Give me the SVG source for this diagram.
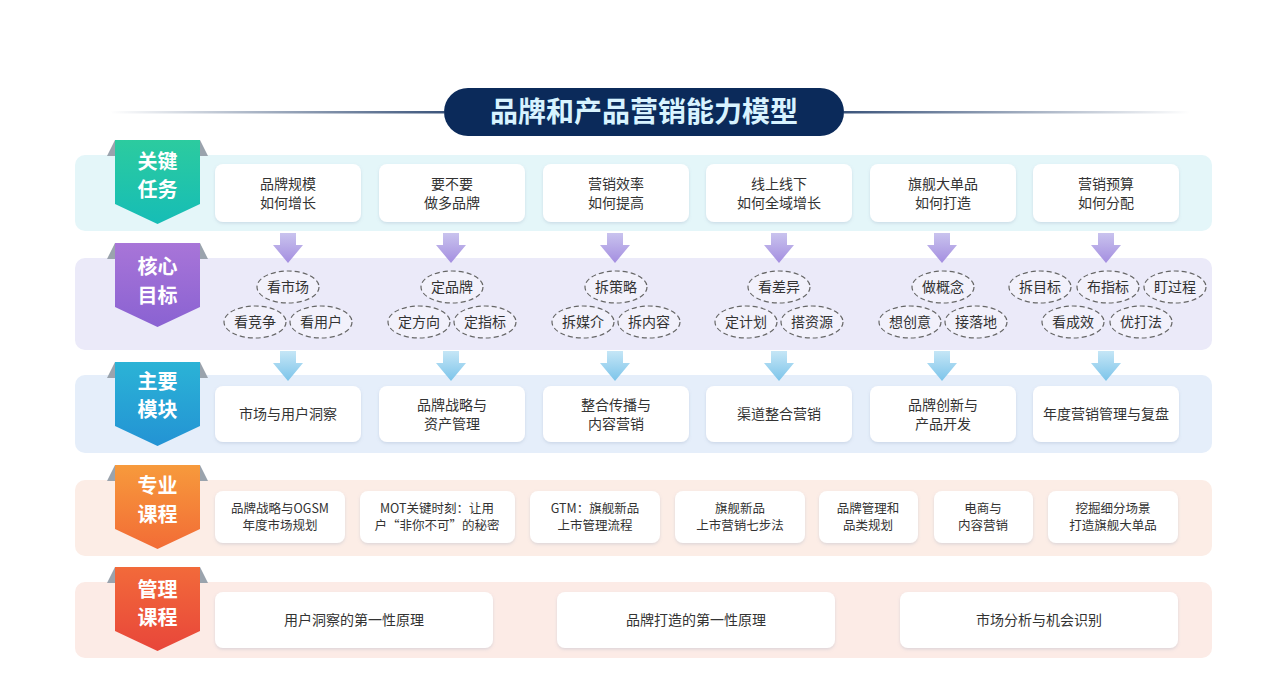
<svg xmlns="http://www.w3.org/2000/svg" width="1280" height="685" viewBox="0 0 1280 685">
<defs>
<style>
text{font-family:"Noto Sans CJK SC","Noto Sans",sans-serif;fill:#333;text-anchor:middle}
.card{fill:#fff;filter:url(#sh)}
.t{font-size:14px}
.s{font-size:12.5px}
.badge text{fill:#fff;font-size:20px;font-weight:bold}
.ov{fill:#fff;fill-opacity:.35;stroke:#666;stroke-dasharray:5 3;stroke-width:1.2}
.o{font-size:14px}
</style>
<filter id="sh" x="-10%" y="-20%" width="120%" height="150%"><feDropShadow dx="0" dy="1.5" stdDeviation="1.5" flood-color="#8090b0" flood-opacity=".25"/></filter>
<linearGradient id="ln" x1="0" x2="1"><stop offset="0" stop-color="#0b2a5a" stop-opacity="0"/><stop offset="1" stop-color="#0b2a5a" stop-opacity=".8"/></linearGradient>
<linearGradient id="ln2" x1="1" x2="0"><stop offset="0" stop-color="#0b2a5a" stop-opacity="0"/><stop offset="1" stop-color="#0b2a5a" stop-opacity=".8"/></linearGradient>
<linearGradient id="g1" x1="0" y1="0" x2="0" y2="1"><stop offset="0" stop-color="#2ccb9f"/><stop offset="1" stop-color="#16bdb6"/></linearGradient>
<linearGradient id="g2" x1="0" y1="0" x2="0" y2="1"><stop offset="0" stop-color="#a875d8"/><stop offset="1" stop-color="#8a62d2"/></linearGradient>
<linearGradient id="g3" x1="0" y1="0" x2="0" y2="1"><stop offset="0" stop-color="#2bb3d6"/><stop offset="1" stop-color="#2393d4"/></linearGradient>
<linearGradient id="g4" x1="0" y1="0" x2="0" y2="1"><stop offset="0" stop-color="#f79a3c"/><stop offset="1" stop-color="#f26c36"/></linearGradient>
<linearGradient id="g5" x1="0" y1="0" x2="0" y2="1"><stop offset="0" stop-color="#f26a3a"/><stop offset="1" stop-color="#e8463a"/></linearGradient>
<linearGradient id="ap" x1="0" y1="0" x2="0" y2="1"><stop offset="0" stop-color="#c9c3ee"/><stop offset="1" stop-color="#a48ee0"/></linearGradient>
<linearGradient id="ab" x1="0" y1="0" x2="0" y2="1"><stop offset="0" stop-color="#c5e6f6"/><stop offset="1" stop-color="#7cc4ea"/></linearGradient>
<path id="arr" d="M-8,0 H8 V12 H15 L0,30 L-15,12 H-8 Z"/>
<path id="bd" d="M0,0 H85 V64 L42.5,84 L0,64 Z"/>
<path id="fold" d="M-8,16 L0,0 V16 Z M85,0 L93,16 H85 Z" fill="#9aa3ad"/>
</defs>
<rect width="1280" height="685" fill="#fff"/>

<g id="title">
<rect x="110" y="111" width="334" height="2.5" fill="url(#ln)"/>
<rect x="844" y="111" width="346" height="2.5" fill="url(#ln2)"/>
<rect x="444" y="88" width="400" height="48" rx="24" fill="#0b2a5a"/>
<text x="644" y="122" style="font-size:28px;font-weight:bold;fill:#d8f3ff">品牌和产品营销能力模型</text>
</g>

<g id="rows">
<rect x="75" y="155" width="1137" height="76" rx="10" fill="#e4f6f9"/>
<rect x="75" y="258" width="1137" height="92" rx="10" fill="#ebeaf9"/>
<rect x="75" y="375" width="1137" height="78" rx="10" fill="#e5eefa"/>
<rect x="75" y="480" width="1137" height="76" rx="10" fill="#fcede6"/>
<rect x="75" y="582" width="1137" height="76" rx="10" fill="#fcebe6"/>
</g>

<g id="connectors">
<g fill="url(#ap)">
<use href="#arr" x="288" y="233"/><use href="#arr" x="451" y="233"/><use href="#arr" x="615" y="233"/><use href="#arr" x="779" y="233"/><use href="#arr" x="942" y="233"/><use href="#arr" x="1106" y="233"/>
</g>
<g fill="url(#ab)">
<use href="#arr" x="288" y="351"/><use href="#arr" x="451" y="351"/><use href="#arr" x="615" y="351"/><use href="#arr" x="779" y="351"/><use href="#arr" x="942" y="351"/><use href="#arr" x="1106" y="351"/>
</g>
</g>

<g id="badge1" class="badge" transform="translate(115,140)"><use href="#fold"/><use href="#bd" fill="url(#g1)"/><text x="42.5" y="29">关键</text><text x="42.5" y="57">任务</text></g>
<g id="badge2" class="badge" transform="translate(115,243)"><use href="#fold"/><use href="#bd" fill="url(#g2)"/><text x="42.5" y="31">核心</text><text x="42.5" y="60">目标</text></g>
<g id="badge3" class="badge" transform="translate(115,362)"><use href="#fold"/><use href="#bd" fill="url(#g3)"/><text x="42.5" y="27">主要</text><text x="42.5" y="55">模块</text></g>
<g id="badge4" class="badge" transform="translate(115,465)"><use href="#fold"/><use href="#bd" fill="url(#g4)"/><text x="42.5" y="28">专业</text><text x="42.5" y="57">课程</text></g>
<g id="badge5" class="badge" transform="translate(115,567)"><use href="#fold"/><use href="#bd" fill="url(#g5)"/><text x="42.5" y="30">管理</text><text x="42.5" y="58">课程</text></g>

<g id="r1c1"><rect class="card" x="215" y="164" width="146" height="58" rx="8"/><text class="t" x="288" y="189">品牌规模</text><text class="t" x="288" y="208">如何增长</text></g>
<g id="r1c2"><rect class="card" x="379" y="164" width="146" height="58" rx="8"/><text class="t" x="452" y="189">要不要</text><text class="t" x="452" y="208">做多品牌</text></g>
<g id="r1c3"><rect class="card" x="543" y="164" width="146" height="58" rx="8"/><text class="t" x="616" y="189">营销效率</text><text class="t" x="616" y="208">如何提高</text></g>
<g id="r1c4"><rect class="card" x="706" y="164" width="146" height="58" rx="8"/><text class="t" x="779" y="189">线上线下</text><text class="t" x="779" y="208">如何全域增长</text></g>
<g id="r1c5"><rect class="card" x="870" y="164" width="146" height="58" rx="8"/><text class="t" x="943" y="189">旗舰大单品</text><text class="t" x="943" y="208">如何打造</text></g>
<g id="r1c6"><rect class="card" x="1033" y="164" width="146" height="58" rx="8"/><text class="t" x="1106" y="189">营销预算</text><text class="t" x="1106" y="208">如何分配</text></g>

<g id="r2g1"><ellipse class="ov" cx="288" cy="287" rx="31" ry="16"/><text class="o" x="288" y="292">看市场</text><ellipse class="ov" cx="255" cy="322" rx="31" ry="16"/><text class="o" x="255" y="327">看竞争</text><ellipse class="ov" cx="321" cy="322" rx="31" ry="16"/><text class="o" x="321" y="327">看用户</text></g>
<g id="r2g2"><ellipse class="ov" cx="452" cy="287" rx="31" ry="16"/><text class="o" x="452" y="292">定品牌</text><ellipse class="ov" cx="419" cy="322" rx="31" ry="16"/><text class="o" x="419" y="327">定方向</text><ellipse class="ov" cx="485" cy="322" rx="31" ry="16"/><text class="o" x="485" y="327">定指标</text></g>
<g id="r2g3"><ellipse class="ov" cx="616" cy="287" rx="31" ry="16"/><text class="o" x="616" y="292">拆策略</text><ellipse class="ov" cx="583" cy="322" rx="31" ry="16"/><text class="o" x="583" y="327">拆媒介</text><ellipse class="ov" cx="649" cy="322" rx="31" ry="16"/><text class="o" x="649" y="327">拆内容</text></g>
<g id="r2g4"><ellipse class="ov" cx="779" cy="287" rx="31" ry="16"/><text class="o" x="779" y="292">看差异</text><ellipse class="ov" cx="746" cy="322" rx="31" ry="16"/><text class="o" x="746" y="327">定计划</text><ellipse class="ov" cx="812" cy="322" rx="31" ry="16"/><text class="o" x="812" y="327">搭资源</text></g>
<g id="r2g5"><ellipse class="ov" cx="943" cy="287" rx="31" ry="16"/><text class="o" x="943" y="292">做概念</text><ellipse class="ov" cx="910" cy="322" rx="31" ry="16"/><text class="o" x="910" y="327">想创意</text><ellipse class="ov" cx="976" cy="322" rx="31" ry="16"/><text class="o" x="976" y="327">接落地</text></g>
<g id="r2g6"><ellipse class="ov" cx="1040" cy="287" rx="31" ry="16"/><text class="o" x="1040" y="292">拆目标</text><ellipse class="ov" cx="1108" cy="287" rx="31" ry="16"/><text class="o" x="1108" y="292">布指标</text><ellipse class="ov" cx="1175" cy="287" rx="31" ry="16"/><text class="o" x="1175" y="292">盯过程</text><ellipse class="ov" cx="1073" cy="322" rx="31" ry="16"/><text class="o" x="1073" y="327">看成效</text><ellipse class="ov" cx="1141" cy="322" rx="31" ry="16"/><text class="o" x="1141" y="327">优打法</text></g>

<g id="r3c1"><rect class="card" x="215" y="386" width="146" height="56" rx="8"/><text class="t" x="288" y="419">市场与用户洞察</text></g>
<g id="r3c2"><rect class="card" x="379" y="386" width="146" height="56" rx="8"/><text class="t" x="452" y="410">品牌战略与</text><text class="t" x="452" y="429">资产管理</text></g>
<g id="r3c3"><rect class="card" x="543" y="386" width="146" height="56" rx="8"/><text class="t" x="616" y="410">整合传播与</text><text class="t" x="616" y="429">内容营销</text></g>
<g id="r3c4"><rect class="card" x="706" y="386" width="146" height="56" rx="8"/><text class="t" x="779" y="419">渠道整合营销</text></g>
<g id="r3c5"><rect class="card" x="870" y="386" width="146" height="56" rx="8"/><text class="t" x="943" y="410">品牌创新与</text><text class="t" x="943" y="429">产品开发</text></g>
<g id="r3c6"><rect class="card" x="1033" y="386" width="146" height="56" rx="8"/><text class="t" x="1106" y="419">年度营销管理与复盘</text></g>

<g id="r4c1"><rect class="card" x="215" y="491" width="130" height="52" rx="8"/><text class="s" x="280" y="513">品牌战略与OGSM</text><text class="s" x="280" y="530">年度市场规划</text></g>
<g id="r4c2"><rect class="card" x="360" y="491" width="155" height="52" rx="8"/><text class="s" x="437" y="513">MOT关键时刻：让用</text><text class="s" x="437" y="530">户“非你不可”的秘密</text></g>
<g id="r4c3"><rect class="card" x="530" y="491" width="130" height="52" rx="8"/><text class="s" x="595" y="513">GTM：旗舰新品</text><text class="s" x="595" y="530">上市管理流程</text></g>
<g id="r4c4"><rect class="card" x="675" y="491" width="130" height="52" rx="8"/><text class="s" x="740" y="513">旗舰新品</text><text class="s" x="740" y="530">上市营销七步法</text></g>
<g id="r4c5"><rect class="card" x="819" y="491" width="99" height="52" rx="8"/><text class="s" x="868" y="513">品牌管理和</text><text class="s" x="868" y="530">品类规划</text></g>
<g id="r4c6"><rect class="card" x="934" y="491" width="99" height="52" rx="8"/><text class="s" x="983" y="513">电商与</text><text class="s" x="983" y="530">内容营销</text></g>
<g id="r4c7"><rect class="card" x="1048" y="491" width="130" height="52" rx="8"/><text class="s" x="1113" y="513">挖掘细分场景</text><text class="s" x="1113" y="530">打造旗舰大单品</text></g>

<g id="r5c1"><rect class="card" x="215" y="592" width="278" height="56" rx="8"/><text class="t" x="354" y="625">用户洞察的第一性原理</text></g>
<g id="r5c2"><rect class="card" x="557" y="592" width="278" height="56" rx="8"/><text class="t" x="696" y="625">品牌打造的第一性原理</text></g>
<g id="r5c3"><rect class="card" x="900" y="592" width="278" height="56" rx="8"/><text class="t" x="1039" y="625">市场分析与机会识别</text></g>
</svg>
